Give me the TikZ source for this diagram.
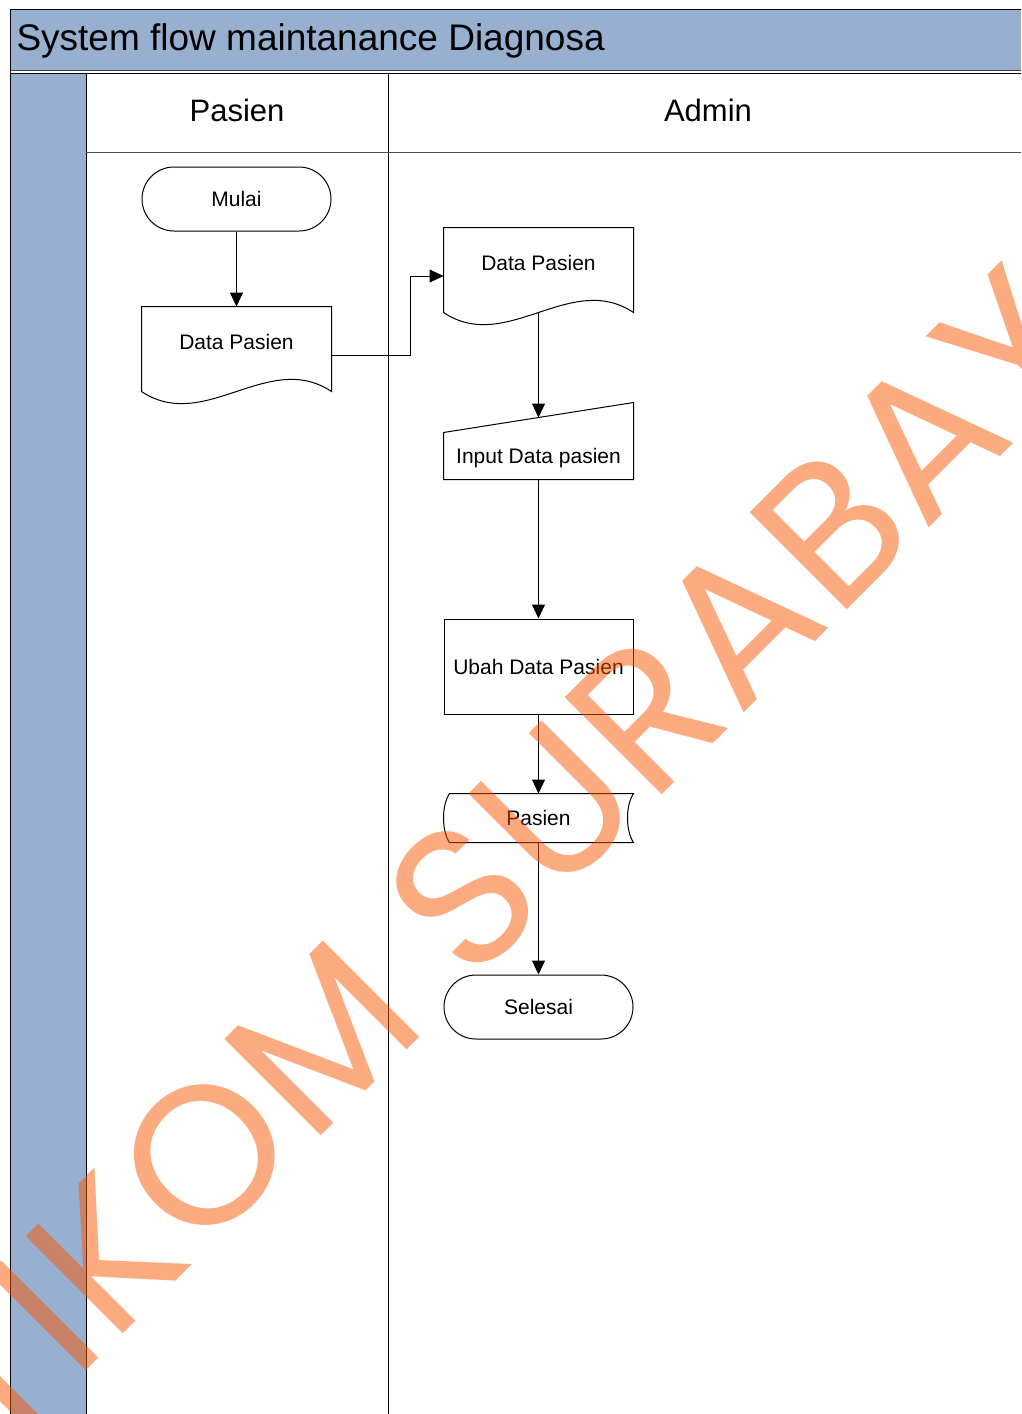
\documentclass[tikz,border=0pt]{standalone}
\usepackage{fontspec}
\setmainfont{Liberation Sans}
\newfontfamily\wmfont[LetterSpace=2]{Poppins}
\usetikzlibrary{arrows.meta,calc}
\definecolor{laneblue}{RGB}{152,176,208}
\definecolor{wmorange}{RGB}{249,85,0}
\begin{document}
\begin{tikzpicture}[x=1pt,y=-1pt,line width=1pt,
  flow/.style={draw=black,line width=1pt,-{Triangle[length=14pt,width=13pt]}},
  shapebox/.style={draw=none,inner sep=0pt,minimum width=189pt,font=\fontsize{21}{25}\selectfont},
  outline/.style={draw=black,line width=1pt,fill=white},
  headtxt/.style={inner sep=0pt,font=\fontsize{31}{36}\selectfont},
  wm/.style={inner sep=0pt,text=wmorange,text opacity=0.5,font=\wmfont\fontsize{197}{197}\selectfont}]
\useasboundingbox (0,0) rectangle (1021,1414);
% frame
\fill[laneblue] (10,9) rectangle (1021,70);
\fill[laneblue] (10,73) rectangle (86,1414);
\draw[black!75] (10,70) -- (1021,70);
\draw (10,9) -- (1021,9);
\draw (10,73) -- (1021,73);
\draw (10,9) -- (10,1414);
\draw (86,73) -- (86,1414);
\draw (388,73) -- (388,1414);
\draw[black!70] (86,152) -- (1021,152);
\node[anchor=west,inner sep=0pt,font=\fontsize{37}{41}\selectfont] (title) at (16,41) {System flow maintanance Diagnosa};
\node[headtxt] (hpas) at (237,110) {Pasien};
\node[headtxt] (hadm) at (708,110) {Admin};
% Mulai
\node[shapebox,minimum height=64pt,draw=black,rounded corners=32pt] (mulai) at (236.5,199) {Mulai};
% document left
\node[shapebox,minimum height=70pt] (docA) at (236.5,342) {};
\draw[outline] (docA.north west) -- (docA.north east) -- ($(docA.south east)+(0,14)$)
  .. controls ($(docA.south east)+(-63,-28)$) and ($(docA.south west)+(63,56)$) .. ($(docA.south west)+(0,14)$) -- cycle;
\node[shapebox] (docAt) at (docA) {Data Pasien};
% document right
\node[shapebox,minimum height=70pt] (docB) at (538.5,263) {};
\draw[outline] (docB.north west) -- (docB.north east) -- ($(docB.south east)+(0,14)$)
  .. controls ($(docB.south east)+(-63,-28)$) and ($(docB.south west)+(63,56)$) .. ($(docB.south west)+(0,14)$) -- cycle;
\node[shapebox] (docBt) at (docB) {Data Pasien};
% manual input
\node[shapebox,minimum height=46pt] (inp) at (538.5,456) {};
\draw[outline] (inp.south west) -- (inp.north west) -- ($(inp.north east)+(0,-30)$) -- (inp.south east) -- cycle;
\node[shapebox] (inpt) at ([yshift=-2pt]inp.center) {Input Data pasien};
% process
\node[shapebox,minimum height=95pt,draw=black] (ubah) at (538.5,666.5) {Ubah Data Pasien};
% stored data
\node[shapebox,minimum height=48pt] (store) at (538.5,818) {};
\draw[outline] ($(store.north west)+(6,0)$) -- (store.north east)
  .. controls ($(store.north east)+(-8,12)$) and ($(store.south east)+(-8,-12)$) .. (store.south east)
  -- ($(store.south west)+(6,0)$)
  .. controls ($(store.south west)+(-2,-12)$) and ($(store.north west)+(-2,12)$) .. ($(store.north west)+(6,0)$) -- cycle;
\node[shapebox] (storet) at (store) {Pasien};
% Selesai
\node[shapebox,minimum height=64pt,draw=black,rounded corners=32pt] (selesai) at (538.5,1007) {Selesai};
% connectors
\draw[flow] (mulai.south) -- (docA.north);
\draw[flow] ([yshift=-13pt]docA.east) -- ++(79,0) |- ([yshift=-13pt]docB.west);
\draw[flow] ([yshift=-14pt]docB.south) -- ([yshift=15pt]inp.north);
\draw[flow] (inp.south) -- (ubah.north);
\draw[flow] (ubah.south) -- (store.north);
\draw[flow] (store.south) -- (selesai.north);
% watermark
\begin{scope}
\clip (0,0) rectangle (1021,1414);
\node[wm,rotate=45,anchor=base west] (wmark) at (-88,1545) {STIKOM SURABAYA};
\end{scope}
\end{tikzpicture}
\end{document}
